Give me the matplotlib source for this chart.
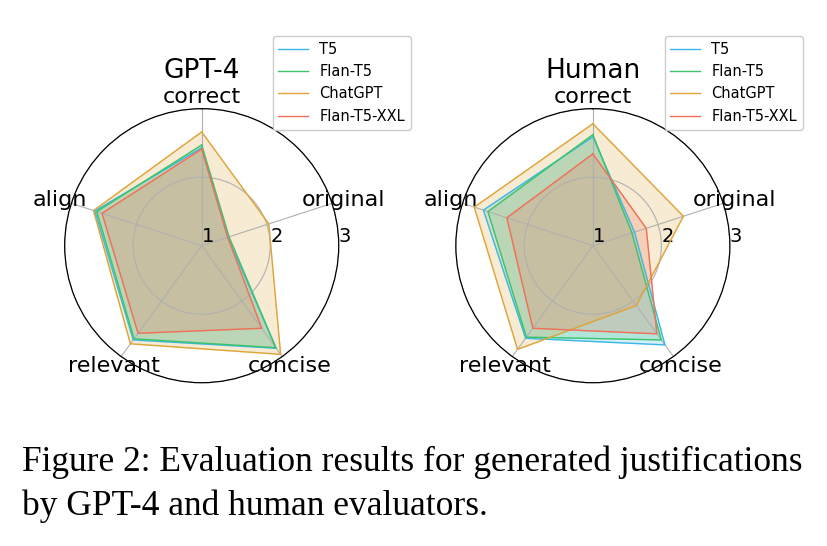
import matplotlib
matplotlib.use("Agg")
import matplotlib.pyplot as plt
import numpy as np

criteria = ["correct", "original", "concise", "relevant", "align"]
models = ["T5", "Flan-T5", "ChatGPT", "Flan-T5-XXL"]
colors = ["#3cb8e6", "#3cc46a", "#dea53a", "#f07058"]

# scores per model, in the order of criteria
gpt4_t5 = [2.43, 1.40, 2.85, 2.70, 2.64]
gpt4_flan = [2.47, 1.42, 2.84, 2.68, 2.61]
gpt4_chatgpt = [2.66, 2.03, 2.96, 2.77, 2.66]
gpt4_xxl = [2.41, 1.40, 2.49, 2.58, 2.53]

human_t5 = [2.59, 1.64, 2.79, 2.67, 2.68]
human_flan = [2.62, 1.60, 2.70, 2.65, 2.61]
human_chatgpt = [2.78, 2.39, 2.08, 2.87, 2.82]
human_xxl = [2.34, 1.82, 2.59, 2.49, 2.32]

panels = [
    ("GPT-4", [gpt4_t5, gpt4_flan, gpt4_chatgpt, gpt4_xxl]),
    ("Human", [human_t5, human_flan, human_chatgpt, human_xxl]),
]

fig = plt.figure(figsize=(8.28, 5.46), dpi=100)
ax_boxes = [[0.0781, 0.299, 0.331, 0.502], [0.5505, 0.299, 0.331, 0.502]]
legend_anchor = [(0.496, 0.934), (0.9694, 0.934)]

angles = np.linspace(0, 2 * np.pi, len(criteria), endpoint=False)
closed = np.concatenate([angles, angles[:1]])

for (title, series), box, anchor in zip(panels, ax_boxes, legend_anchor):
    ax = fig.add_axes(box, projection="polar")
    ax.set_theta_offset(np.pi / 2)
    ax.set_theta_direction(-1)
    for name, vals, c in zip(models, series, colors):
        v = np.concatenate([vals, vals[:1]])
        ax.plot(closed, v, color=c, lw=1.0, label=name)
        ax.fill(closed, v, color=c, alpha=0.22)
    ax.set_ylim(1, 3)
    ax.set_yticks([1, 2, 3])
    ax.set_yticklabels(["1", "2", "3"], fontsize=14)
    ax.set_rlabel_position(90)
    ax.set_xticks(angles)
    ax.set_xticklabels(criteria, fontsize=16)
    ax.tick_params(axis="x", pad=-2)
    ax.grid(color="#b0b0b0", lw=0.8)
    ax.spines["polar"].set_color("black")
    ax.spines["polar"].set_linewidth(0.9)
    ax.set_title(title, fontsize=19, pad=22)
    ax.legend(loc="upper right", bbox_to_anchor=anchor, bbox_transform=fig.transFigure,
              fontsize=10.5, borderaxespad=0, framealpha=1, edgecolor="#cccccc")

cap = {"family": "Liberation Serif", "fontsize": 25.5}
fig.text(0.027, 1 - 471 / 546, "Figure 2: Evaluation results for generated justifications", **cap)
fig.text(0.027, 1 - 515 / 546, "by GPT-4 and human evaluators.", **cap)

fig.savefig("out.png", dpi=100)
